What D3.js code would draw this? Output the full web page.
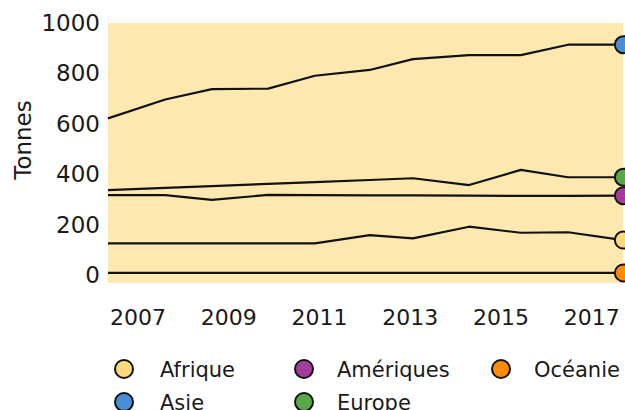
<!DOCTYPE html>
<html><head><meta charset="utf-8">
<script src="https://cdn.jsdelivr.net/npm/d3@7"></script>
<style>body{margin:0;background:#fff;} svg{display:block;} text{font-family:"DejaVu Sans",sans-serif;fill:#1a1a1a;}</style>
</head><body><div id="chart"></div>
<script>
const years = [2006.35, 2007.61, 2008.64, 2009.88, 2010.91, 2012.12, 2013.07, 2014.31, 2015.45, 2016.49, 2017.71];
const afrique   = [127, 127, 127, 127, 127, 160, 147, 193, 169, 171, 140];
const ameriques = [318, 318, 299, 319, 318, 317, 317, 316, 315, 315, 316];
const asie      = [622, 697, 738, 740, 791, 814, 857, 873, 873, 914, 914];
const europe    = [338, 347, 354, 363, 370, 378, 385, 358, 418, 389, 389];
const oceanie   = [10, 10, 10, 10, 10, 10, 10, 10, 10, 10, 10];
const seriesNames = ["Afrique", "Amériques", "Océanie", "Asie", "Europe"];
const seriesColors = ["#ffd97f", "#a53c9d", "#ff8c00", "#4a8fd5", "#58a845"];
const xTicks = [2007, 2009, 2011, 2013, 2015, 2017];
const yTicks = [0, 200, 400, 600, 800, 1000];
const yLabel = "Tonnes";

const seriesValues = [afrique, ameriques, oceanie, asie, europe];
const W = 625, H = 410;
const svg = d3.select("#chart").append("svg").attr("width", W).attr("height", H);

const x = d3.scaleLinear().domain([2006.35, 2017.68]).range([108, 622]);
const y = d3.scaleLinear().domain([-30, 1000]).range([283, 23]);

svg.append("rect").attr("x", 108).attr("y", 23).attr("width", 515).attr("height", 260).attr("fill", "#fde9b0");

// y axis
const yAxis = svg.append("g").attr("transform", "translate(108,0)")
  .call(d3.axisLeft(y).tickValues(yTicks).tickSize(0).tickPadding(8).tickFormat(d3.format("d")));
yAxis.select(".domain").remove();
yAxis.selectAll("text").style("font-size", "23px").attr("fill", "#1a1a1a");

// x axis
const xAxis = svg.append("g").attr("transform", "translate(0,283)")
  .call(d3.axisBottom(x).tickValues(xTicks).tickSize(0).tickPadding(26).tickFormat(d3.format("d")));
xAxis.select(".domain").remove();
xAxis.selectAll("text").style("font-size", "22px").attr("fill", "#1a1a1a");

svg.append("text").attr("transform", "translate(31,140) rotate(-90)")
  .attr("text-anchor", "middle").style("font-size", "23px").text(yLabel);

const line = d3.line().x((d, i) => x(years[i])).y(d => y(d));
seriesValues.forEach(vals => {
  svg.append("path").attr("d", line(vals)).attr("fill", "none")
    .attr("stroke", "#111").attr("stroke-width", 2.2).attr("stroke-linejoin", "round");
});
seriesValues.forEach((vals, k) => {
  const n = vals.length - 1;
  svg.append("circle").attr("cx", x(years[n])).attr("cy", y(vals[n])).attr("r", 8.5)
    .attr("fill", seriesColors[k]).attr("stroke", "#111").attr("stroke-width", 2);
});

// legend
const legX = [124, 304, 501], legTextX = [160, 337, 534], legY = [369, 402];
seriesNames.forEach((name, k) => {
  const col = k % 3, row = Math.floor(k / 3);
  svg.append("circle").attr("cx", legX[col]).attr("cy", legY[row]).attr("r", 9)
    .attr("fill", seriesColors[k]).attr("stroke", "#111").attr("stroke-width", 2);
  svg.append("text").attr("x", legTextX[col]).attr("y", legY[row]).attr("dy", "0.36em")
    .style("font-size", "21px").attr("fill", "#333").text(name);
});
</script></body></html>
